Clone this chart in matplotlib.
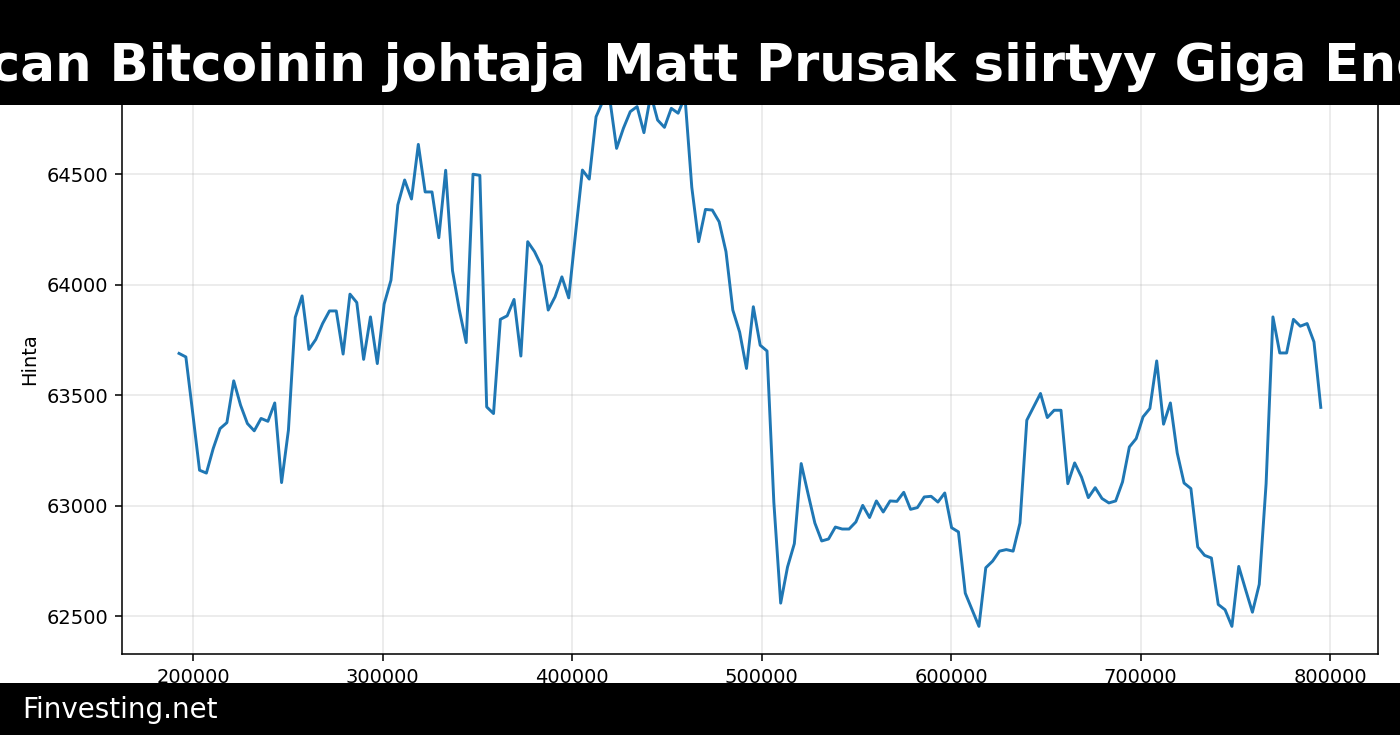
import numpy as np
import matplotlib.pyplot as plt
from matplotlib.patches import Rectangle

# otsikko ja lähde
title_text = "American Bitcoinin johtaja Matt Prusak siirtyy Giga Energyyn"
source_text = "Finvesting.net"
y_label = "Hinta"

# x-akseli: tasavälinen, alku ja askel
x_start = 192600
x_step = 3608

# hinta
prices = [
    63689, 63673, 63420, 63161, 63148, 63259, 63349, 63376, 63565, 63455,
    63372, 63339, 63395, 63382, 63465, 63105, 63342, 63852, 63949, 63707,
    63752, 63824, 63881, 63881, 63686, 63957, 63919, 63662, 63854, 63643,
    63912, 64020, 64360, 64473, 64387, 64634, 64419, 64419, 64212, 64517,
    64063, 63885, 63738, 64499, 64494, 63447, 63417, 63843, 63859, 63933,
    63677, 64194, 64149, 64085, 63885, 63945, 64035, 63940, 64232, 64518,
    64477, 64759, 64830, 64840, 64616, 64707, 64782, 64805, 64687, 64860,
    64744, 64711, 64797, 64775, 64850, 64440, 64194, 64340, 64337, 64284,
    64149, 63885, 63785, 63621, 63900, 63726, 63700, 63016, 62560, 62723,
    62829, 63191, 63055, 62922, 62841, 62850, 62904, 62895, 62895, 62927,
    63002, 62947, 63022, 62972, 63022, 63020, 63061, 62984, 62992, 63040,
    63043, 63017, 63058, 62901, 62882, 62605, 62530, 62455, 62720, 62750,
    62795, 62802, 62795, 62922, 63387, 63447, 63508, 63399, 63432, 63432,
    63100, 63194, 63130, 63037, 63082, 63033, 63013, 63022, 63108, 63266,
    63304, 63402, 63440, 63655, 63369, 63465, 63239, 63103, 63078, 62814,
    62776, 62764, 62554, 62530, 62455, 62726, 62621, 62519, 62645, 63100,
    63854, 63691, 63691, 63843, 63812, 63824, 63741, 63445,
]

x = x_start + x_step * np.arange(len(prices))

fig = plt.figure(figsize=(10, 5.25), dpi=140)
ax = fig.add_axes([0.0871, 0.1102, 0.8971, 0.8035])

ax.plot(x, prices, color="#1f77b4", linewidth=1.5)
ax.set_ylim(62330, 65000)
ax.grid(True, alpha=0.3)
ax.set_ylabel(y_label)

# musta otsikkopalkki ylhäällä
fig.add_artist(Rectangle((0, 1 - 105 / 735), 1, 105 / 735, transform=fig.transFigure,
                         facecolor="black", edgecolor="none", zorder=5))
fig.text(708 / 1400, 1 - 81 / 735, title_text, color="white", fontsize=26.5, fontweight="bold",
         ha="center", va="baseline", zorder=6)

# musta alapalkki
fig.add_artist(Rectangle((0, 0), 1, 52 / 735, transform=fig.transFigure,
                         facecolor="black", edgecolor="none", zorder=5))
fig.text(22 / 1400, 1 - 718 / 735, source_text, color="white", fontsize=14.3,
         ha="left", va="baseline", zorder=6)

fig.savefig("out.png", dpi=140)
